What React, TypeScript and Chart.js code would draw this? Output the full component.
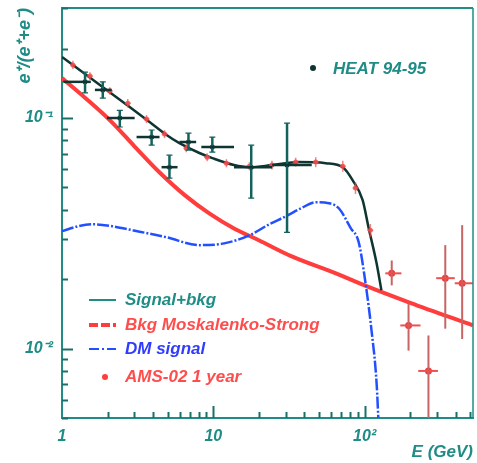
import React, { useEffect, useRef } from 'react';
import { Chart, registerables } from 'chart.js';

Chart.register(...registerables);

// ---------- data ----------
const xTickVals = [1, 10, 100];
const xTickLabels = ['1', '10', '10²'];
const yTickVals = [0.01, 0.1];
const yTickLabels = ['10⁻²', '10⁻¹'];

// Background (Moskalenko-Strong)
const bkgE = [1, 1.45, 2.1, 3, 4.4, 6.5, 9.4, 13.7, 20, 33, 67, 100, 200, 520];
const bkgV = [0.149, 0.121, 0.097, 0.0756, 0.0582, 0.0462, 0.0386, 0.0332, 0.0295, 0.0251, 0.021, 0.0188, 0.0158, 0.0126];

// DM signal
const dmE = [1, 1.27, 1.6, 2.17, 2.93, 4.9, 8.1, 11.8, 17.3, 23.4, 30.2, 37.9, 47.6, 58, 67.5, 80.9, 91.4, 101.6, 111, 120, 124];
const dmV = [0.0323, 0.0339, 0.0346, 0.0339, 0.0326, 0.0304, 0.0281, 0.0286, 0.031, 0.0346, 0.0375, 0.0406, 0.0431, 0.0427, 0.0406, 0.0333, 0.0289, 0.019, 0.012, 0.00705, 0.0045];

// Signal + bkg
const sigE = [1, 1.78, 2.8, 3.79, 4.91, 5.97, 8.09, 9.85, 13.7, 17.3, 24.4, 36.8, 55.4, 71.7, 83.4, 97, 106, 120, 129];
const sigV = [0.184, 0.139, 0.1116, 0.0961, 0.0844, 0.0778, 0.0705, 0.067, 0.0625, 0.0612, 0.0625, 0.0644, 0.0637, 0.0612, 0.0537, 0.044, 0.0336, 0.0234, 0.0179];

// HEAT 94-95
const heatE = [1.42, 1.86, 2.41, 3.91, 5.13, 6.85, 9.85, 17.8, 30.7];
const heatV = [0.1435, 0.1324, 0.1, 0.0827, 0.0612, 0.0787, 0.0748, 0.0612, 0.0625];
const heatVLo = [0.1285, 0.122, 0.0914, 0.0763, 0.0549, 0.0726, 0.0712, 0.0449, 0.0319];
const heatVHi = [0.158, 0.1435, 0.108, 0.0887, 0.069, 0.086, 0.0827, 0.0763, 0.0951];
const heatELo = [1.02, 1.65, 1.98, 3.11, 4.55, 5.97, 8.33, 13.7, 24.5];
const heatEHi = [1.55, 2.13, 3.02, 4.41, 5.8, 7.7, 13.7, 24.5, 44.7];

// AMS-02 1 year
const amsE = [1.18, 1.53, 2.07, 2.72, 3.62, 4.76, 6.63, 9.1, 12.2, 17.3, 24.4, 35, 47.5, 71.7, 87, 109, 151, 195, 264, 341, 441];
const amsV = [0.17, 0.152, 0.131, 0.116, 0.099, 0.0852, 0.074, 0.0676, 0.0637, 0.0618, 0.0625, 0.0644, 0.0644, 0.0618, 0.0497, 0.0326, 0.0212, 0.0126, 0.008, 0.0202, 0.0192];
const amsVLo = [0.163, 0.146, 0.126, 0.111, 0.095, 0.0818, 0.071, 0.0649, 0.0611, 0.0593, 0.0598, 0.0615, 0.0612, 0.0584, 0.0468, 0.0305, 0.0188, 0.0098, 0.004, 0.0122, 0.011];
const amsVHi = [0.177, 0.158, 0.136, 0.121, 0.103, 0.0886, 0.077, 0.0703, 0.0663, 0.0643, 0.0652, 0.0673, 0.0676, 0.0652, 0.0526, 0.0347, 0.0241, 0.0157, 0.0114, 0.0281, 0.0343];
const amsELo = [1.13, 1.46, 1.98, 2.6, 3.46, 4.55, 6.34, 8.7, 11.7, 16.5, 23.3, 33.5, 45.4, 68.6, 83.2, 104, 137, 172, 226, 297, 394];
const amsEHi = [1.23, 1.6, 2.16, 2.85, 3.79, 4.98, 6.93, 9.5, 12.8, 18.1, 25.5, 36.6, 49.7, 75, 91, 114, 175, 234, 305, 394, 521];

const legendLabels = ['Signal+bkg', 'Bkg Moskalenko-Strong', 'DM signal', 'AMS-02 1 year'];
const heatLabel = 'HEAT 94-95';
const xTitle = 'E (GeV)';
const yTitle = 'e⁺/(e⁺+e⁻)';

// ---------- styles ----------
const TEAL = '#1f8d86';
const SIG = '#0e3532';
const RED = '#ff3d3d';
const BLUE = '#2350ff';
const HEAT = '#14625c';
const FAM = '"Liberation Sans", Arial, Helvetica, sans-serif';
const DMDASH = [12, 2, 2, 2];

const pts = (xs: number[], ys: number[]) => xs.map((x, i) => ({ x, y: ys[i] }));

const decorPlugin = {
  id: 'decor',
  afterDatasetsDraw(chart: any) {
    const { ctx, chartArea: a, scales } = chart;
    const x = scales.x, y = scales.y;
    ctx.save();
    ctx.beginPath();
    ctx.rect(a.left, a.top, a.right - a.left, a.bottom - a.top);
    ctx.clip();
    // AMS error bars
    amsE.forEach((E, i) => {
      const big = E > 130;
      const px = x.getPixelForValue(E), py = y.getPixelForValue(amsV[i]);
      ctx.lineWidth = big ? 2 : 1.5;
      ctx.strokeStyle = big ? '#c86464' : 'rgba(240,80,80,0.7)';
      ctx.beginPath();
      ctx.moveTo(px, y.getPixelForValue(amsVLo[i]));
      ctx.lineTo(px, y.getPixelForValue(amsVHi[i]));
      ctx.stroke();
      ctx.strokeStyle = big ? '#ec5050' : 'rgba(240,80,80,0.7)';
      ctx.beginPath();
      ctx.moveTo(x.getPixelForValue(amsELo[i]), py);
      ctx.lineTo(x.getPixelForValue(amsEHi[i]), py);
      ctx.stroke();
    });
    // HEAT error bars
    heatE.forEach((E, i) => {
      const px = x.getPixelForValue(E), py = y.getPixelForValue(heatV[i]);
      const lo = y.getPixelForValue(heatVLo[i]), hi = y.getPixelForValue(heatVHi[i]);
      ctx.strokeStyle = HEAT;
      ctx.lineWidth = 2.5;
      ctx.beginPath();
      ctx.moveTo(px, lo);
      ctx.lineTo(px, hi);
      ctx.stroke();
      ctx.strokeStyle = SIG;
      ctx.beginPath();
      ctx.moveTo(x.getPixelForValue(heatELo[i]), py);
      ctx.lineTo(x.getPixelForValue(heatEHi[i]), py);
      ctx.stroke();
      ctx.strokeStyle = HEAT;
      ctx.lineWidth = 1.2;
      ctx.beginPath();
      ctx.moveTo(px - 3, hi); ctx.lineTo(px + 3, hi);
      ctx.moveTo(px - 3, lo); ctx.lineTo(px + 3, lo);
      ctx.stroke();
    });
    ctx.restore();
  },
  afterDraw(chart: any) {
    const { ctx, chartArea: a, scales } = chart;
    const x = scales.x, y = scales.y;
    ctx.save();
    // frame (top + right)
    ctx.strokeStyle = TEAL;
    ctx.lineWidth = 2;
    ctx.beginPath();
    ctx.moveTo(a.left, a.top); ctx.lineTo(a.right, a.top);
    ctx.stroke();
    ctx.lineWidth = 1.5;
    ctx.beginPath();
    ctx.moveTo(a.right, a.top); ctx.lineTo(a.right, a.bottom);
    ctx.stroke();
    // inward tick marks
    ctx.lineWidth = 2;
    ctx.strokeStyle = '#1a6f69';
    for (let d = 0.001; d < 1; d *= 10) {
      for (let m = 1; m < 10; m++) {
        const v = d * m;
        if (v < y.min - 1e-9 || v > y.max + 1e-9) continue;
        const py = Math.round(y.getPixelForValue(v)) + 0.5;
        const len = m === 1 ? 11 : 6;
        ctx.beginPath();
        ctx.moveTo(a.left, py); ctx.lineTo(a.left + len, py);
        ctx.stroke();
      }
    }
    for (let d = 1; d < 1000; d *= 10) {
      for (let m = 1; m < 10; m++) {
        const v = d * m;
        if (v <= x.min || v > x.max) continue;
        const px = Math.round(x.getPixelForValue(v)) + 0.5;
        const len = m === 1 ? 12 : 6;
        ctx.beginPath();
        ctx.moveTo(px, a.bottom); ctx.lineTo(px, a.bottom - len);
        ctx.stroke();
      }
    }
    // legend
    ctx.font = `italic bold 17px ${FAM}`;
    ctx.textBaseline = 'middle';
    ctx.textAlign = 'left';
    const lx0 = 89, lx1 = 116, tx = 125;
    const rows = [300, 325, 349, 377];
    // Signal+bkg
    ctx.setLineDash([]);
    ctx.strokeStyle = TEAL; ctx.lineWidth = 2;
    ctx.beginPath(); ctx.moveTo(lx0, rows[0]); ctx.lineTo(lx1, rows[0]); ctx.stroke();
    ctx.fillStyle = TEAL; ctx.fillText(legendLabels[0], tx, rows[0]);
    // Bkg
    ctx.setLineDash([9, 3]);
    ctx.strokeStyle = RED; ctx.lineWidth = 4;
    ctx.beginPath(); ctx.moveTo(lx0, rows[1]); ctx.lineTo(lx1, rows[1]); ctx.stroke();
    ctx.fillStyle = '#ff4d4d'; ctx.fillText(legendLabels[1], tx, rows[1]);
    // DM
    ctx.setLineDash([10, 3, 2, 3]);
    ctx.strokeStyle = BLUE; ctx.lineWidth = 2;
    ctx.beginPath(); ctx.moveTo(lx0, rows[2]); ctx.lineTo(lx1, rows[2]); ctx.stroke();
    ctx.setLineDash([]);
    ctx.fillStyle = '#2f3cff'; ctx.fillText(legendLabels[2], tx, rows[2]);
    // AMS
    ctx.fillStyle = RED;
    ctx.beginPath(); ctx.arc(105, rows[3], 3, 0, Math.PI * 2); ctx.fill();
    ctx.fillStyle = '#ff4d4d'; ctx.fillText(legendLabels[3], tx, rows[3]);
    // HEAT label
    ctx.fillStyle = SIG;
    ctx.beginPath(); ctx.arc(313, 68, 3, 0, Math.PI * 2); ctx.fill();
    ctx.fillStyle = TEAL; ctx.fillText(heatLabel, 333, 69);
    ctx.restore();
  },
};

export default function App() {
  const ref = useRef<HTMLCanvasElement | null>(null);
  useEffect(() => {
    if (!ref.current) return;
    const chart = new Chart(ref.current, {
      type: 'scatter',
      data: {
        datasets: [
          {
            label: 'HEAT 94-95',
            data: pts(heatE, heatV),
            pointRadius: 2.5,
            pointBackgroundColor: SIG,
            pointBorderWidth: 0,
            order: 0,
          },
          {
            label: legendLabels[3],
            data: pts(amsE, amsV),
            pointRadius: amsE.map((e) => (e > 130 ? 3.5 : 2.5)),
            pointBackgroundColor: amsE.map((e) => (e > 130 ? '#ee3a3a' : 'rgba(240,60,60,0.8)')),
            pointBorderWidth: 0,
            order: 1,
          },
          {
            label: legendLabels[0],
            data: pts(sigE, sigV),
            showLine: true,
            borderColor: SIG,
            borderWidth: 2.5,
            pointRadius: 0,
            cubicInterpolationMode: 'monotone',
            order: 2,
          },
          {
            label: legendLabels[2],
            data: pts(dmE, dmV),
            showLine: true,
            borderColor: BLUE,
            borderWidth: 2.5,
            borderDash: DMDASH,
            pointRadius: 0,
            cubicInterpolationMode: 'monotone',
            order: 3,
          },
          {
            label: legendLabels[1],
            data: pts(bkgE, bkgV),
            showLine: true,
            borderColor: RED,
            borderWidth: 4,
            pointRadius: 0,
            cubicInterpolationMode: 'monotone',
            order: 4,
          },
        ],
      },
      options: {
        responsive: false,
        animation: false,
        events: [],
        layout: { padding: { top: 8, right: 2, left: 0, bottom: 0 } },
        plugins: { legend: { display: false }, tooltip: { enabled: false } },
        scales: {
          x: {
            type: 'logarithmic',
            position: 'bottom',
            min: 1,
            max: 520,
            afterBuildTicks: (s: any) => { s.ticks = xTickVals.map((v) => ({ value: v })); },
            afterFit: (s: any) => { s.height = 45; s.paddingLeft = 0; s.paddingRight = 0; },
            grid: { display: false, drawTicks: false },
            border: { display: true, color: TEAL, width: 2 },
            ticks: {
              autoSkip: false,
              maxRotation: 0,
              padding: 9,
              color: TEAL,
              font: { family: FAM, size: 16, style: 'italic', weight: 'bold' },
              callback: (v: any) => { const i = xTickVals.indexOf(Number(v)); return i >= 0 ? xTickLabels[i] : ''; },
            },
            title: {
              display: true,
              text: xTitle,
              align: 'end',
              color: TEAL,
              font: { family: FAM, size: 17, style: 'italic', weight: 'bold' },
              padding: { top: 0, bottom: 0 },
            },
          },
          y: {
            type: 'logarithmic',
            position: 'left',
            min: 0.005,
            max: 0.3,
            afterBuildTicks: (s: any) => { s.ticks = yTickVals.map((v) => ({ value: v })); },
            afterFit: (s: any) => { s.width = 62; s.paddingTop = 0; s.paddingBottom = 0; },
            grid: { display: false, drawTicks: false },
            border: { display: true, color: TEAL, width: 2 },
            ticks: {
              autoSkip: false,
              padding: 9,
              color: TEAL,
              font: { family: FAM, size: 16, style: 'italic', weight: 'bold' },
              callback: (v: any) => { const i = yTickVals.findIndex((t) => Math.abs(t - Number(v)) < 1e-9); return i >= 0 ? yTickLabels[i] : ''; },
            },
            title: {
              display: true,
              text: yTitle,
              align: 'end',
              color: TEAL,
              font: { family: FAM, size: 18, style: 'italic', weight: 'bold' },
              padding: { top: 14, bottom: 0 },
            },
          },
        },
      } as any,
      plugins: [decorPlugin],
    });
    return () => chart.destroy();
  }, []);
  return (
    <div style={{ position: 'absolute', left: 0, top: 0, width: 477, height: 463, background: '#fff' }}>
      <canvas ref={ref} width={477} height={463} style={{ display: 'block' }} />
    </div>
  );
}
